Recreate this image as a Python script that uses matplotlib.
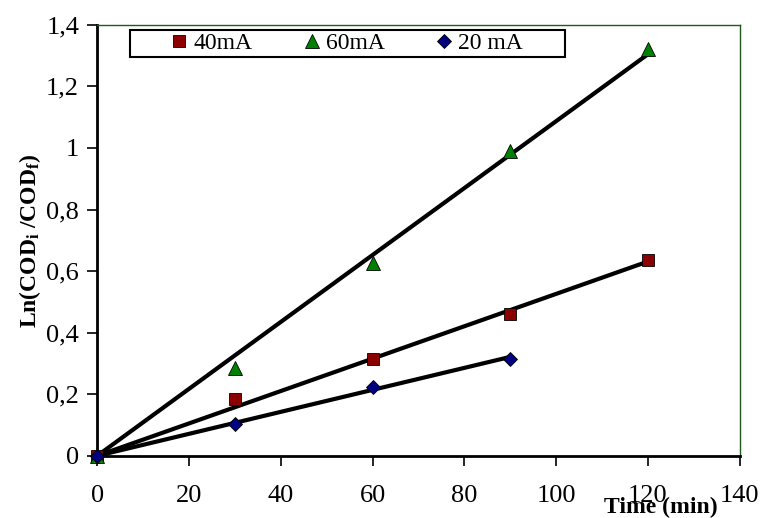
import matplotlib
matplotlib.use('Agg')
import matplotlib.pyplot as plt
import numpy as np
from matplotlib.patches import Rectangle
from matplotlib.ticker import FuncFormatter, MultipleLocator

# COD removal kinetics at three current densities
time_40 = [0, 30, 60, 90, 120]
ln_40 = [0.0, 0.185, 0.315, 0.46, 0.635]
time_60 = [0, 30, 60, 90, 120]
ln_60 = [0.0, 0.285, 0.625, 0.99, 1.32]
time_20 = [0, 30, 60, 90]
ln_20 = [0.0, 0.105, 0.225, 0.315]

plt.rcParams['font.family'] = ['Liberation Serif', 'DejaVu Serif']
plt.rcParams['mathtext.fontset'] = 'custom'
plt.rcParams['mathtext.rm'] = 'Liberation Serif'
plt.rcParams['mathtext.bf'] = 'Liberation Serif:bold'
plt.rcParams['mathtext.it'] = 'Liberation Serif:italic'

fig = plt.figure(figsize=(7.65, 5.18), dpi=100)
ax = fig.add_axes([0.127, 0.12, 0.84, 0.832])


def origin_fit(x, y):
    # first-order rate constant, line forced through the origin
    x = np.asarray(x, float)
    y = np.asarray(y, float)
    k = np.sum(x * y) / np.sum(x * x)
    return k


series = [
    (time_40, ln_40, 's', '#8b0000', 8, '40mA'),
    (time_60, ln_60, '^', '#008000', 10, '60mA'),
    (time_20, ln_20, 'D', '#000080', 7, '20 mA'),
]

for t, v, m, c, ms, lab in series:
    k = origin_fit(t, v)
    xs = np.array([0, max(t)])
    ax.plot(xs, k * xs, color='black', lw=3, zorder=2)

for t, v, m, c, ms, lab in series:
    ax.plot(t, v, linestyle='none', marker=m, markersize=ms,
            markerfacecolor=c, markeredgecolor='black', markeredgewidth=0.6,
            label=lab, zorder=3, clip_on=False)

ax.set_xlim(0, 140)
ax.set_ylim(0, 1.4)
ax.xaxis.set_major_locator(MultipleLocator(20))
ax.yaxis.set_major_locator(MultipleLocator(0.2))
ax.yaxis.set_major_formatter(
    FuncFormatter(lambda v, p: ('%g' % round(v, 1)).replace('.', ',')))

ax.tick_params(direction='out', length=7, width=1.2, labelsize=19,
               colors='black')
ax.tick_params(axis='x', pad=14)
ax.tick_params(axis='y', pad=6)

for s in ['left', 'bottom']:
    ax.spines[s].set_linewidth(2)
    ax.spines[s].set_color('black')
for s in ['top', 'right']:
    ax.spines[s].set_linewidth(1)
    ax.spines[s].set_color('#1e5a1e')

ax.set_ylabel(r'$\mathbf{Ln(COD_i\ /COD_f)}$', fontsize=17, labelpad=2)
fig.text(0.79, 0.0, 'Time (min)', fontsize=17, fontweight='bold',
         ha='left', va='bottom')

# legend box drawn by hand so the entries sit centred with wide margins
box = Rectangle((0.051, 0.926), 0.677, 0.062, transform=ax.transAxes,
                facecolor='white', edgecolor='black', lw=1.5, zorder=4)
ax.add_patch(box)
leg = ax.legend(loc='center', bbox_to_anchor=(0.3895, 0.957), ncol=3,
                frameon=False, fontsize=17,
                handlelength=0.6, handletextpad=0.3, columnspacing=2.2,
                borderpad=0.0, borderaxespad=0)
leg.set_zorder(5)

fig.savefig('out.png', dpi=100)
